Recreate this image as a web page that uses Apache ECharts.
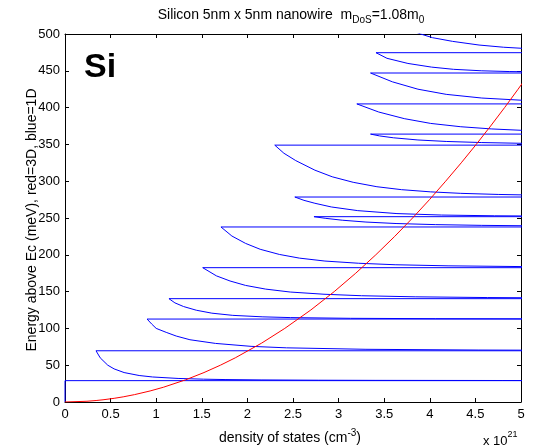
<!DOCTYPE html>
<html><head><meta charset="utf-8">
<script src="https://cdn.jsdelivr.net/npm/echarts@6/dist/echarts.min.js"></script>
<style>html,body{margin:0;padding:0;background:#fff}#c{width:535px;height:448px}</style>
</head><body><div id="c"></div>
<script>
// ---- tick values ----
const xTickValues = [0, 0.5, 1, 1.5, 2, 2.5, 3, 3.5, 4, 4.5, 5];
const yTickValues = [0, 50, 100, 150, 200, 250, 300, 350, 400, 450, 500];

// ---- 1D DOS (blue): subband edges (meV) ----
const subbandEdges = [29, 69.6, 112.7, 140.4, 182.5, 237.8, 251.8, 278.5, 349, 364, 405, 447, 474.6];
// DOS diverges at each subband edge (off scale)
const spikeDOS = 20;
// decaying 1D DOS after each edge: [DOS (1e21 cm^-3), energy (meV)]
const decay1 = [[6.8,29.1],[4.8,29.2],[3.4,29.4],[2.78,29.6],[2.15,30],[1.755,30.5],[1.52,31],[1.24,32],[0.96,34],[0.813,36],[0.648,40],[0.538,45],[0.469,50],[0.386,60],[0.34,69.6]];
const decay2 = [[5.36,70.3],[4.53,70.6],[3.30,71.6],[2.43,73.6],[2.04,75.6],[1.65,79.6],[1.37,84.6],[1.22,89.6],[1.11,94.6],[1.0,100],[0.95,106],[0.9,112.7]];
const decay3 = [[5.9,112.9],[4.99,113.0],[4.06,113.2],[3.13,113.7],[2.47,114.7],[2.17,115.7],[1.84,117.7],[1.61,120.7],[1.44,124.7],[1.30,129.7],[1.205,134.7],[1.14,140.4]];
const decay4 = [[6.26,141.1],[5.42,141.4],[4.63,141.9],[3.84,142.9],[3.25,144.4],[2.84,146.4],[2.47,149.4],[2.20,153.4],[1.98,158.4],[1.81,164.4],[1.66,171.4],[1.51,182.5]];
const decay5 = [[6.3,183.3],[5.0,184],[4.2,185],[3.62,186.5],[3.22,188.5],[2.85,191.5],[2.57,195.5],[2.35,200.5],[2.14,207.5],[1.98,215.5],[1.83,225.5],[1.71,237.8]];
const decay6 = [[6.48,238.6],[5.18,239.3],[4.57,240],[4.06,241],[3.63,242.5],[3.30,244.5],[3.04,247],[2.86,249.5],[2.73,251.8]];
const decay7 = [[5.37,252.5],[4.71,253],[4.13,254],[3.64,256],[3.21,260],[2.92,265],[2.74,270],[2.62,274],[2.52,278.5]];
const decay8 = [[7.3,279.3],[6.0,280],[5.19,281],[4.75,282],[4.34,283.5],[4.01,285.5],[3.69,288.5],[3.42,292.5],[3.16,298.5],[2.93,306],[2.74,315],[2.53,328],[2.40,338],[2.30,349]];
const decay9 = [[7.1,349.8],[5.8,350.5],[5.0,351.5],[4.57,352.5],[4.18,354],[3.87,356],[3.6,359],[3.45,361.5],[3.35,364]];
const decay10 = [[8.1,364.8],[6.76,365.5],[5.93,366.5],[5.46,367.5],[5.03,369],[4.68,371],[4.34,374],[4.01,378.5],[3.72,385],[3.44,394],[3.2,405]];
const decay11 = [[8.0,405.8],[6.16,407],[5.39,408.5],[5.01,410],[4.57,413],[4.18,418],[3.87,425],[3.59,435],[3.35,447]];
const decay12 = [[6.2,447.6],[5.34,448.2],[4.87,449],[4.57,450],[4.26,452],[4.02,455],[3.76,460],[3.53,467],[3.41,474.6]];
const decay13 = [[6.9,476],[5.6,478],[5.02,480.5],[4.81,482],[4.54,485],[4.25,490],[4.03,495],[3.9,500],[3.8,505]];

// ---- 3D DOS (red) ----
const redEnergy = [0, 1, 2, 3, 5, 7, 10, 15, 20, 30, 40, 50, 60, 80, 100, 125, 150, 175, 200, 225, 250, 275, 300, 325, 350, 375, 400, 425, 450];
const redDOS = [0, 0.241, 0.341, 0.417, 0.539, 0.638, 0.762, 0.933, 1.078, 1.32, 1.524, 1.704, 1.867, 2.156, 2.41, 2.695, 2.952, 3.188, 3.408, 3.615, 3.811, 3.997, 4.174, 4.345, 4.509, 4.667, 4.82, 4.968, 5.112];

// ---- build series ----
const decays = [decay1, decay2, decay3, decay4, decay5, decay6, decay7, decay8, decay9, decay10, decay11, decay12, decay13];
const blueLine = [[0, 0]];
subbandEdges.forEach((E, i) => {
  const prev = blueLine[blueLine.length - 1];
  blueLine.push([prev[0], E]);
  blueLine.push([spikeDOS, E]);
  decays[i].forEach(p => blueLine.push(p));
});
const redLine = redEnergy.map((e, i) => [redDOS[i], e]);

const FONT = '"Liberation Sans", Arial, sans-serif';
const chart = echarts.init(document.getElementById('c'), null, {renderer: 'canvas'});
const axisCommon = {
  type: 'value',
  axisLine: {show: true, onZero: false, lineStyle: {color: '#000', width: 1}},
  axisTick: {show: true, inside: true, length: 4, lineStyle: {color: '#000'}},
  splitLine: {show: false}
};
chart.setOption({
  animation: false,
  backgroundColor: '#fff',
  grid: {left: 65, right: 14, top: 34, bottom: 46, containLabel: false},
  xAxis: [
    Object.assign({}, axisCommon, {min: xTickValues[0], max: xTickValues[xTickValues.length-1], interval: 0.5, position: 'bottom',
      axisLabel: {show: true, margin: 6, color: '#000', fontSize: 13, fontFamily: FONT}}),
    Object.assign({}, axisCommon, {min: xTickValues[0], max: xTickValues[xTickValues.length-1], interval: 0.5, position: 'top',
      axisLabel: {show: false}})
  ],
  yAxis: [
    Object.assign({}, axisCommon, {min: yTickValues[0], max: yTickValues[yTickValues.length-1], interval: 50, position: 'left',
      axisLabel: {show: true, margin: 5, color: '#000', fontSize: 13, fontFamily: FONT}}),
    Object.assign({}, axisCommon, {min: yTickValues[0], max: yTickValues[yTickValues.length-1], interval: 50, position: 'right',
      axisLabel: {show: false}})
  ],
  series: [
    {type: 'line', data: blueLine, showSymbol: false, symbol: 'none', clip: true,
     lineStyle: {color: '#0000ff', width: 1}, z: 3},
    {type: 'line', data: redLine, showSymbol: false, symbol: 'none', clip: true,
     lineStyle: {color: '#ff0000', width: 1}, z: 4}
  ],
  graphic: [
    {type: 'text', x: 291, y: 15, style: {
      text: '{a|Silicon 5nm x 5nm nanowire  m}{s|DoS}{a|=1.08m}{s|0}',
      align: 'center', verticalAlign: 'middle', fill: '#000',
      rich: {a: {fontSize: 14, lineHeight: 20, fontFamily: FONT, fill: '#000'},
             s: {fontSize: 10, lineHeight: 10, verticalAlign: 'bottom', fontFamily: FONT, fill: '#000'}}}},
    {type: 'text', x: 290, y: 438, style: {
      text: '{a|density of states (cm}{p|-3}{a|)}',
      align: 'center', verticalAlign: 'middle', fill: '#000',
      rich: {a: {fontSize: 14, lineHeight: 20, fontFamily: FONT, fill: '#000'},
             p: {fontSize: 10, lineHeight: 10, verticalAlign: 'top', fontFamily: FONT, fill: '#000'}}}},
    {type: 'text', x: 483, y: 441, style: {
      text: '{a|x 10}{p|21}',
      align: 'left', verticalAlign: 'middle', fill: '#000',
      rich: {a: {fontSize: 13, lineHeight: 22, fontFamily: FONT, fill: '#000'},
             p: {fontSize: 9, lineHeight: 9, verticalAlign: 'top', fontFamily: FONT, fill: '#000'}}}},
    {type: 'text', x: 32, y: 220, rotation: Math.PI / 2, style: {
      text: 'Energy above Ec (meV), red=3D, blue=1D', align: 'center', verticalAlign: 'middle',
      fill: '#000', font: '14px ' + FONT}},
    {type: 'text', x: 84, y: 68, style: {
      text: 'Si', align: 'left', verticalAlign: 'middle', fill: '#000', font: 'bold 34px ' + FONT}}
  ]
});
</script></body></html>
